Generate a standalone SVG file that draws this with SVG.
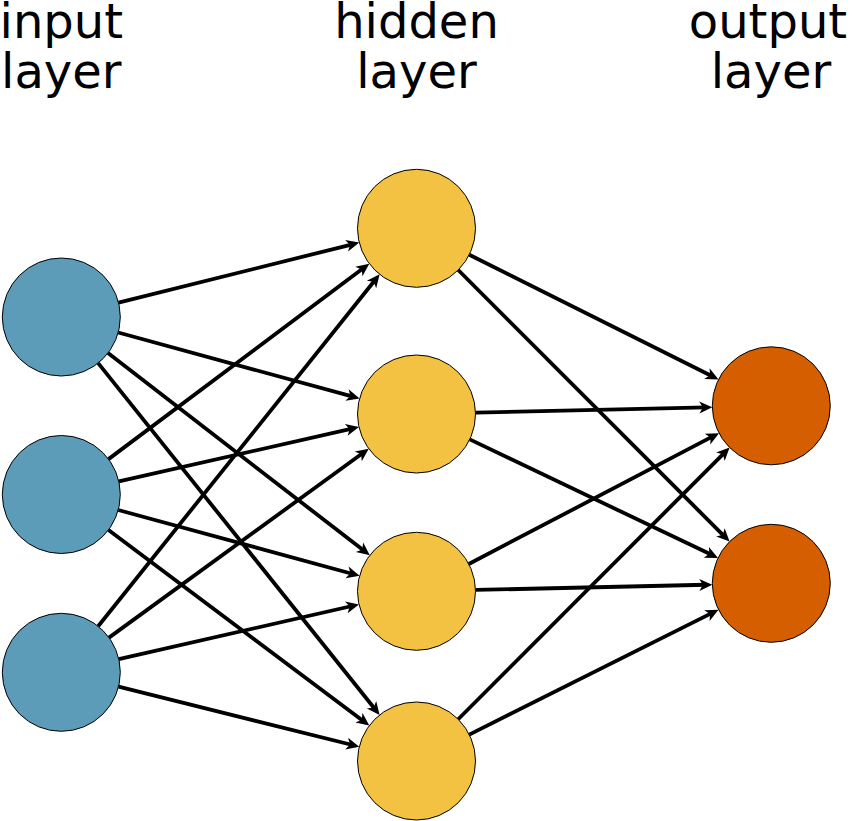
<svg xmlns="http://www.w3.org/2000/svg" width="852" height="821" viewBox="0 0 852 821">
<style>
.lbl{font-family:"DejaVu Sans","Liberation Sans",sans-serif;font-size:48px;fill:#000;text-anchor:middle}
.in{fill:#5d9cb8;stroke:#000;stroke-width:1}
.hid{fill:#f3c243;stroke:#000;stroke-width:1}
.out{fill:#d45e00;stroke:#000;stroke-width:1}
.edge{stroke:#000;stroke-width:3.8;fill:none;marker-end:url(#arr)}
</style>
<defs>
<marker id="arr" markerUnits="userSpaceOnUse" viewBox="-9 -7 18 14" markerWidth="18" markerHeight="14" refX="0" refY="0" orient="auto">
<path d="M6,0 L-7,-6 L-3.5,0 L-7,6 Z" fill="#000"/>
</marker>
</defs>
<rect width="852" height="821" fill="#fff"/>
<g id="labels">
<text class="lbl" x="61.3" y="38">input</text>
<text class="lbl" x="61.3" y="88">layer</text>
<text class="lbl" x="416.5" y="38">hidden</text>
<text class="lbl" x="416.5" y="88">layer</text>
<text class="lbl" x="768" y="38">output</text>
<text class="lbl" x="771" y="88">layer</text>
</g>
<g id="connectors">
<line class="edge" x1="118.54" y1="302.70" x2="353.44" y2="244.05"/>
<line class="edge" x1="118.22" y1="332.54" x2="353.79" y2="396.88"/>
<line class="edge" x1="108.00" y1="353.06" x2="365.05" y2="551.57"/>
<line class="edge" x1="98.16" y1="363.07" x2="375.89" y2="710.25"/>
<line class="edge" x1="108.51" y1="459.12" x2="364.49" y2="267.28"/>
<line class="edge" x1="118.84" y1="481.46" x2="353.11" y2="428.37"/>
<line class="edge" x1="118.22" y1="510.01" x2="353.79" y2="574.21"/>
<line class="edge" x1="108.49" y1="529.91" x2="364.51" y2="721.99"/>
<line class="edge" x1="98.16" y1="626.23" x2="375.89" y2="279.05"/>
<line class="edge" x1="109.02" y1="637.60" x2="363.93" y2="452.23"/>
<line class="edge" x1="118.83" y1="659.18" x2="353.12" y2="605.75"/>
<line class="edge" x1="118.54" y1="686.60" x2="353.44" y2="745.25"/>
<line class="edge" x1="469.27" y1="254.70" x2="713.16" y2="376.71"/>
<line class="edge" x1="458.21" y1="270.03" x2="725.35" y2="537.33"/>
<line class="edge" x1="475.48" y1="412.64" x2="706.32" y2="407.30"/>
<line class="edge" x1="469.75" y1="439.41" x2="712.63" y2="555.31"/>
<line class="edge" x1="468.78" y1="563.97" x2="713.70" y2="435.91"/>
<line class="edge" x1="475.48" y1="589.97" x2="706.32" y2="584.77"/>
<line class="edge" x1="458.20" y1="719.25" x2="725.36" y2="451.80"/>
<line class="edge" x1="469.26" y1="734.58" x2="713.17" y2="612.41"/>
</g>
<g id="input1"><circle class="in" cx="61.3" cy="317" r="59"/></g>
<g id="input2"><circle class="in" cx="61.3" cy="494.5" r="59"/></g>
<g id="input3"><circle class="in" cx="61.3" cy="672.3" r="59"/></g>
<g id="hidden1"><circle class="hid" cx="416.5" cy="228.3" r="59"/></g>
<g id="hidden2"><circle class="hid" cx="416.5" cy="414" r="59"/></g>
<g id="hidden3"><circle class="hid" cx="416.5" cy="591.3" r="59"/></g>
<g id="hidden4"><circle class="hid" cx="416.5" cy="761" r="59"/></g>
<g id="output1"><circle class="out" cx="771.3" cy="405.8" r="59"/></g>
<g id="output2"><circle class="out" cx="771.3" cy="583.3" r="59"/></g>
</svg>
